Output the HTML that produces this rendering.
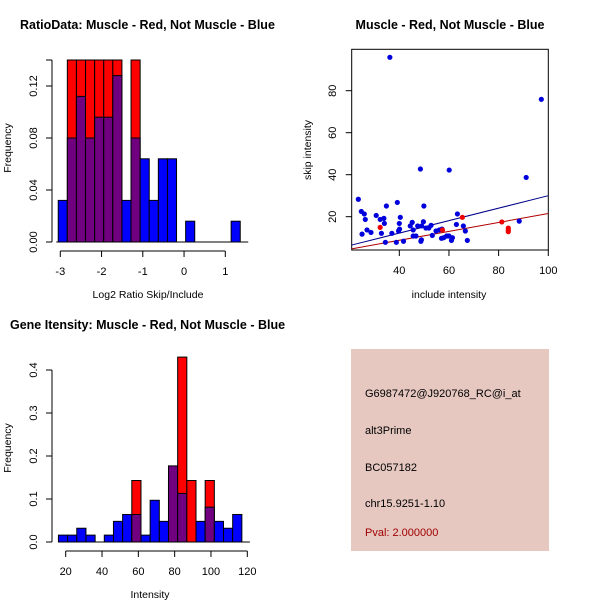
<!DOCTYPE html>
<html><head><meta charset="utf-8"><style>
body{margin:0;background:#fff}
svg{display:block;font-family:"Liberation Sans",Arial,sans-serif}
</style></head><body>
<svg id="c" width="600" height="600" viewBox="0 0 600 600">
<rect width="600" height="600" fill="#fff"/>
<text x="20" y="29" font-size="12.5" font-weight="bold">RatioData: Muscle - Red, Not Muscle - Blue</text>
<text x="450" y="29" font-size="12.5" font-weight="bold" text-anchor="middle">Muscle - Red, Not Muscle - Blue</text>
<text x="10" y="329" font-size="12.5" font-weight="bold">Gene Itensity: Muscle - Red, Not Muscle - Blue</text>
<g id="g1"></g>
<g id="g2"></g>
<g id="g3"></g>
<g>
<rect x="351" y="349" width="198" height="202" fill="#e6c8c1"/>
<g font-size="11" fill="#000">
<text x="365" y="397">G6987472@J920768_RC@i_at</text>
<text x="365" y="434">alt3Prime</text>
<text x="365" y="471">BC057182</text>
<text x="365" y="507">chr15.9251-1.10</text>
<text x="365" y="536" fill="#a00000">Pval: 2.000000</text>
</g></g>
</svg>
<script>
// Ratio histogram data
const ratioBinStart = -3.05, ratioBinWidth = 0.2206;
const ratioBlue = [0.032,0.08,0.112,0.08,0.096,0.096,0.128,0.032,0.08,0.064,0.032,0.064,0.064,0,0.016,0,0,0,0,0.016];
const ratioRed  = [0,0.14,0.14,0.14,0.14,0.14,0.14,0,0.14,0,0,0,0,0,0,0,0,0,0,0];
const ratioXTicks = [-3,-2,-1,0,1];
const ratioYTicks = [0,0.04,0.08,0.12];
const ratioYLabels = ["0.00","0.04","0.08","0.12"];
// Intensity histogram data
const intBinStart = 16, intBinWidth = 5.05;
const intBlue = [0.016,0.016,0.032,0.016,0,0.016,0.048,0.064,0.064,0.016,0.097,0.048,0.177,0.113,0,0.048,0.081,0.048,0.032,0.064];
const intRed  = [0,0,0,0,0,0,0,0,0.143,0,0,0,0.143,0.43,0.143,0,0.143,0,0,0];
const intXTicks = [20,40,60,80,100,120];
const intYTicks = [0,0.1,0.2,0.3,0.4];
const intYLabels = ["0.0","0.1","0.2","0.3","0.4"];
// Scatter data
const blueX = [23.5,24.7,25.9,26.3,25,27,28.6,30.7,32.3,33.8,34,32.8,34.8,36.2,37,34.4,39.2,38.8,39.7,40,40.4,40.1,41.7,44.4,45.2,45.6,45.6,46.7,48.5,47.4,48.7,48.9,49.7,49.9,49,50.7,51.9,52.8,53.3,54.8,56.1,57,57.9,59.1,60.1,60,61,61.4,63,63.4,65.8,66.6,67.4,88.3,91.1,97.2,57.2];
const blueY = [28.3,22.5,21.3,18.7,11.7,13.7,12.5,20.6,18.7,19.2,16.8,12.1,25.1,95.9,12.1,7.8,26.8,7.8,13.2,16.8,19.7,14.1,8.3,15.6,17.3,13.7,10.8,10.8,42.7,15.6,8.3,9,17.6,25.1,15.6,14.6,14.6,15.9,11.1,13.2,13.7,9.7,10,10.8,42.2,10.8,8.7,10,16.3,21.3,15.6,13.2,8.7,17.9,38.7,75.9,14.1];
const redX = [32.3,57.4,65.4,81.3,83.9,83.9,83.9];
const redY = [14.9,13.7,19.7,17.5,14.6,12.9,13.7];
const blueFit = [6.5,30];   // y at x=20.8 and x=100
const redFit = [4.7,21.5];
const scXTicks = [40,60,80,100];
const scYTicks = [20,40,60,80];

const NS="http://www.w3.org/2000/svg";
function mk(p,tag,at){const e=document.createElementNS(NS,tag);for(const k in at)e.setAttribute(k,at[k]);p.appendChild(e);return e;}

function hist(g,o){
  const sx=v=>o.x0+(v-o.xv0)*o.kx, sy=v=>o.y0-v*o.ky;
  for(let i=0;i<o.blue.length;i++){
    const a=sx(o.bs+i*o.bw), b=sx(o.bs+(i+1)*o.bw);
    const bl=o.blue[i], rd=o.red[i];
    if(rd>0){const r=mk(g,'rect',{x:a,y:sy(rd),width:b-a,height:sy(0)-sy(rd),fill:'#ff0000',stroke:'#000','stroke-width':1});
      
      }
    if(bl>0){const r=mk(g,'rect',{x:a,y:sy(bl),width:b-a,height:sy(0)-sy(bl),fill:rd>0?'#70007f':'#0000ff',stroke:'#000','stroke-width':1});
      
      }
  }
  mk(g,'line',{x1:o.x0-4,x2:sx(o.bs+o.blue.length*o.bw)+8,y1:sy(0),y2:sy(0),stroke:'#000'});
  mk(g,'line',{x1:o.ax,x2:o.ax,y1:sy(0),y2:sy(o.ytop),stroke:'#000'});
  o.yt.forEach((v,i)=>{mk(g,'line',{x1:o.ax-6,x2:o.ax,y1:sy(v),y2:sy(v),stroke:'#000'});
    const t=mk(g,'text',{x:0,y:0,transform:`translate(${o.ax-15},${sy(v)}) rotate(-90)`,'text-anchor':'middle','font-size':11});t.textContent=o.yl[i];
    
    });
  if(o.ytop>o.yt[o.yt.length-1]) mk(g,'line',{x1:o.ax-6,x2:o.ax,y1:sy(o.ytop),y2:sy(o.ytop),stroke:'#000'});
  mk(g,'line',{x1:sx(o.xt[0]),x2:sx(o.xt[o.xt.length-1]),y1:o.xay,y2:o.xay,stroke:'#000'});
  o.xt.forEach(v=>{mk(g,'line',{x1:sx(v),x2:sx(v),y1:o.xay,y2:o.xay+6,stroke:'#000'});
    const t=mk(g,'text',{x:sx(v),y:o.xay+24,'text-anchor':'middle','font-size':11});t.textContent=v;
    
    });
  const xl=mk(g,'text',{x:o.xlx,y:o.xly,'text-anchor':'middle','font-size':10.5});xl.textContent=o.xlab;
  
  
  const yl=mk(g,'text',{x:0,y:0,transform:`translate(11,${o.yly}) rotate(-90)`,'text-anchor':'middle','font-size':10.5});yl.textContent='Frequency';
  
  
}
hist(document.getElementById('g1'),{x0:60.3,xv0:-3,kx:41.25,y0:242,ky:1300,bs:ratioBinStart,bw:ratioBinWidth,blue:ratioBlue,red:ratioRed,
  ax:52,ytop:0.14,yt:ratioYTicks,yl:ratioYLabels,xt:ratioXTicks,xay:251,xlab:'Log2 Ratio Skip/Include',xlx:148,xly:298,yly:148});
hist(document.getElementById('g3'),{x0:65.7,xv0:20,kx:1.816,y0:542,ky:430,bs:intBinStart,bw:intBinWidth,blue:intBlue,red:intRed,
  ax:52,ytop:0.4,yt:intYTicks,yl:intYLabels,xt:intXTicks,xay:551,xlab:'Intensity',xlx:150,xly:598,yly:448});

(function(){
  const g=document.getElementById('g2');
  const sx=v=>399.3+(v-40)*2.483, sy=v=>216.7-(v-20)*2.1;
  mk(g,'rect',{x:351.7,y:49.3,width:196.6,height:200.7,fill:'none',stroke:'#000'});
  let l=mk(g,'line',{x1:sx(20.8),y1:sy(blueFit[0]),x2:sx(100),y2:sy(blueFit[1]),stroke:'#00008b'});
  
  
  l=mk(g,'line',{x1:sx(20.8),y1:sy(redFit[0]),x2:sx(100),y2:sy(redFit[1]),stroke:'#b00000'});
  
  
  blueX.forEach((x,i)=>{const c=mk(g,'circle',{cx:sx(x),cy:sy(blueY[i]),r:2.6,fill:'#0000dd'});
    
    });
  redX.forEach((x,i)=>{const c=mk(g,'circle',{cx:sx(x),cy:sy(redY[i]),r:2.6,fill:'#ee0000'});
    
    });
  scXTicks.forEach(v=>{mk(g,'line',{x1:sx(v),x2:sx(v),y1:250,y2:256,stroke:'#000'});
    const t=mk(g,'text',{x:sx(v),y:274,'text-anchor':'middle','font-size':11});t.textContent=v;
    
    });
  scYTicks.forEach(v=>{mk(g,'line',{x1:345.7,x2:351.7,y1:sy(v),y2:sy(v),stroke:'#000'});
    const t=mk(g,'text',{x:0,y:0,transform:`translate(336,${sy(v)}) rotate(-90)`,'text-anchor':'middle','font-size':11});t.textContent=v;
    
    });
  let t=mk(g,'text',{x:449,y:298,'text-anchor':'middle','font-size':10.5});t.textContent='include intensity';
  
  
  t=mk(g,'text',{x:0,y:0,transform:'translate(311,150) rotate(-90)','text-anchor':'middle','font-size':10.5});t.textContent='skip intensity';
  
  
})();
</script>
</body></html>
